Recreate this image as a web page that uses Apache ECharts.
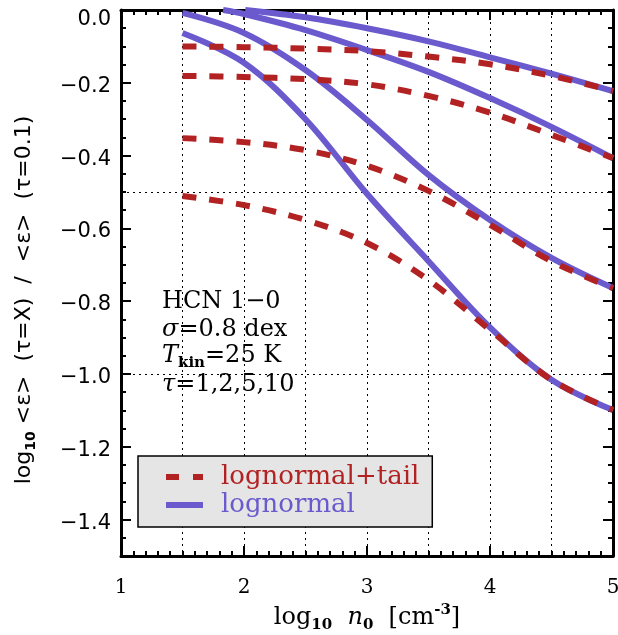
<!DOCTYPE html>
<html>
<head>
<meta charset="utf-8">
<script src="https://cdn.jsdelivr.net/npm/echarts@6/dist/echarts.min.js"></script>
<style>html,body{margin:0;padding:0;background:#fff}#c{width:618px;height:635px}</style>
</head>
<body>
<div id="c"></div>
<script>
// ---- data ----
const xTail = [1.5, 2.0, 2.5, 3.0, 3.5, 4.0, 4.5, 5.0];
const tailTau1  = [-0.100, -0.102, -0.106, -0.113, -0.128, -0.149, -0.181, -0.222];
const tailTau2  = [-0.181, -0.184, -0.190, -0.204, -0.236, -0.282, -0.343, -0.407];
const tailTau5  = [-0.352, -0.363, -0.385, -0.428, -0.497, -0.590, -0.690, -0.764];
const tailTau10 = [-0.511, -0.536, -0.577, -0.640, -0.742, -0.879, -1.016, -1.099];

const xLn1 = [2.01, 2.5, 3.0, 3.5, 4.0, 4.5, 5.0];
const lnTau1 = [0.0, -0.020, -0.050, -0.086, -0.130, -0.175, -0.223];
const xLn2 = [1.83, 2.0, 2.5, 3.0, 3.5, 4.0, 4.5, 5.0];
const lnTau2 = [0.0, -0.011, -0.055, -0.110, -0.170, -0.242, -0.321, -0.407];
const xLn = [1.5, 2.0, 2.5, 3.0, 3.5, 4.0, 4.5, 5.0];
const lnTau5  = [-0.008, -0.063, -0.165, -0.302, -0.453, -0.577, -0.681, -0.764];
const lnTau10 = [-0.063, -0.145, -0.300, -0.505, -0.690, -0.872, -1.016, -1.099];

const xTicks = [1, 2, 3, 4, 5];
const yTicks = [0.0, -0.2, -0.4, -0.6, -0.8, -1.0, -1.2, -1.4];
const legendNames = ['lognormal+tail', 'lognormal'];

const RED = '#b22222', BLUE = '#6a5acd';
const SERIF = 'DejaVu Serif', SANS = 'DejaVu Sans';

function pairs(xs, ys) { return xs.map((x, i) => [x, ys[i]]); }
// minor tick positions on y (every 0.05 between -1.5 and 0)
const yMinor = [];
for (let k = 0; k <= 30; k++) yMinor.push(+(-1.5 + k * 0.05).toFixed(2));

const chart = echarts.init(document.getElementById('c'), null, {renderer: 'canvas'});

const xFrame = (pos) => ({
  type: 'value', position: pos, min: 1, max: 5, interval: 1,
  axisLine: {show: true, onZero: false, lineStyle: {color: '#000', width: 3}},
  axisTick: {show: true, inside: true, length: 10, lineStyle: {color: '#000', width: 2}},
  minorTick: {show: true, splitNumber: 10, length: 5, lineStyle: {color: '#000', width: 2}},
  splitLine: {show: false}, minorSplitLine: {show: false},
  axisLabel: {show: false}
});
const yFrame = (pos) => ({
  type: 'value', position: pos, min: -1.5, max: 0,
  axisLine: {show: true, onZero: false, lineStyle: {color: '#000', width: 3}},
  axisTick: {show: true, inside: true, length: 10, customValues: yTicks, lineStyle: {color: '#000', width: 2}},
  minorTick: {show: false},
  splitLine: {show: false},
  axisLabel: {show: false}
});
const yMinorAxis = (pos) => ({
  type: 'value', position: pos, min: -1.5, max: 0,
  axisLine: {show: false},
  axisTick: {show: true, inside: true, length: 5, customValues: yMinor, lineStyle: {color: '#000', width: 2}},
  axisLabel: {show: false}, splitLine: {show: false}
});

const lnSeries = (data) => ({
  name: 'lognormal', type: 'line', data, symbol: 'none', smooth: 0.35,
  lineStyle: {color: BLUE, width: 6}, itemStyle: {color: BLUE}, z: 3, clip: true
});
const tailSeries = (data) => ({
  name: 'lognormal+tail', type: 'line', data, symbol: 'none', smooth: 0.35,
  lineStyle: {color: RED, width: 6, type: [14, 13]}, itemStyle: {color: RED}, z: 4, clip: true
});

const xBottom = xFrame('bottom');
xBottom.axisLabel = {show: true, margin: 22, color: '#000', fontFamily: SERIF, fontSize: 20,
  formatter: v => xTicks.includes(v) ? String(v) : ''};
xBottom.name = '{t|log}{s|10}{t|  }{i|n}{s|0}{t|  [cm}{p|-3}{t|]}';
xBottom.nameLocation = 'middle';
xBottom.nameGap = 23;
xBottom.nameTextStyle = {
  rich: {
    t: {fontFamily: SERIF, fontSize: 24, color: '#000', lineHeight: 30, verticalAlign: 'middle'},
    i: {fontFamily: SERIF, fontSize: 24, fontStyle: 'italic', color: '#000', lineHeight: 30, verticalAlign: 'middle'},
    s: {fontFamily: SERIF, fontSize: 15, fontWeight: 'bold', color: '#000', lineHeight: 30, verticalAlign: 'bottom'},
    p: {fontFamily: SERIF, fontSize: 15, fontWeight: 'bold', color: '#000', lineHeight: 30, verticalAlign: 'top'}
  }
};

const yLeft = yFrame('left');
yLeft.axisLabel = {show: true, margin: 10, color: '#000', customValues: yTicks,
  formatter: v => {
    const isZero = Math.abs(v) < 1e-9;
    const s = (isZero ? '0.0' : v.toFixed(1)).replace('-', '\u2212');
    return isZero ? '{z|' + s + '}' : '{n|' + s + '}';
  },
  rich: {
    z: {fontFamily: SANS, fontSize: 21, color: '#000', padding: [20, 0, 0, 0]},
    n: {fontFamily: SANS, fontSize: 21, color: '#000', padding: [7, 0, 0, 0]}
  }
};
yLeft.name = '{t|log}{s|10}{t| <\u03b5>  (\u03c4=X)  /  <\u03b5>  (\u03c4=0.1)}{e| }';
yLeft.nameLocation = 'middle';
yLeft.nameRotate = 90;
yLeft.nameGap = 83;
yLeft.nameTextStyle = {
  rich: {
    t: {fontFamily: SANS, fontSize: 22, color: '#000', lineHeight: 28, verticalAlign: 'middle'},
    s: {fontFamily: SANS, fontSize: 14, fontWeight: 'bold', color: '#000', lineHeight: 28, verticalAlign: 'bottom'},
    e: {fontSize: 10, width: 34, lineHeight: 28}
  }
};

const txt = (extra) => Object.assign({fontFamily: SERIF, fontSize: 24, fill: '#000', lineHeight: 30, verticalAlign: 'middle'}, extra || {});

const option = {
  animation: false,
  backgroundColor: '#fff',
  grid: {left: 121, top: 10, width: 492, height: 546, containLabel: false, outerBoundsMode: 'none'},
  xAxis: [
    xBottom,
    xFrame('top'),
    {
      type: 'value', position: 'bottom', min: 1, max: 5, interval: 0.5,
      axisLine: {show: false}, axisTick: {show: false}, axisLabel: {show: false},
      splitLine: {show: true, lineStyle: {color: '#000', width: 1, type: [2, 4]}}
    }
  ],
  yAxis: [
    yLeft,
    yFrame('right'),
    yMinorAxis('left'),
    yMinorAxis('right'),
    {
      type: 'value', position: 'left', min: -1.5, max: 0,
      axisLine: {show: false}, axisTick: {show: false}, axisLabel: {show: false},
      splitLine: {show: true, lineStyle: {color: '#000', width: 1, type: [2, 4]}},
      interval: 0.5
    }
  ],
  legend: {
    orient: 'vertical', left: 138, top: 456,
    backgroundColor: '#e5e5e5', borderColor: '#000', borderWidth: 1.5, borderRadius: 0,
    padding: [7, 13, 8, 28], itemGap: 0, itemWidth: 37, itemHeight: 6,
    symbolKeepAspect: false,
    data: [
      {name: legendNames[0], icon: 'path://M0,0h13v6h-13z M27,0h10v6h-10z', itemStyle: {color: RED}, textStyle: {color: RED}},
      {name: legendNames[1], icon: 'path://M0,0h37v6h-37z', itemStyle: {color: BLUE}, textStyle: {color: BLUE}}
    ],
    textStyle: {fontFamily: SERIF, fontSize: 26, lineHeight: 28, padding: [0, 0, 0, 13]}
  },
  graphic: [
    {type: 'text', left: 162, top: 290, style: {text: '{n|HCN 1\u22120}', rich: {n: txt()}}},
    {type: 'text', left: 162, top: 318, style: {
      text: '{i|\u03c3}{n|=0.8 dex}',
      rich: {i: txt({fontStyle: 'italic'}), n: txt()}}},
    {type: 'text', left: 162, top: 344, style: {
      text: '{i|T}{b|kin}{n|=25 K}',
      rich: {i: txt({fontStyle: 'italic'}), b: txt({fontSize: 15, fontWeight: 'bold', verticalAlign: 'bottom'}), n: txt()}}},
    {type: 'text', left: 162, top: 373, style: {
      text: '{i|\u03c4}{n|=1,2,5,10}',
      rich: {i: txt({fontStyle: 'italic'}), n: txt()}}}
  ],
  series: [
    lnSeries(pairs(xLn1, lnTau1)),
    lnSeries(pairs(xLn2, lnTau2)),
    lnSeries(pairs(xLn, lnTau5)),
    lnSeries(pairs(xLn, lnTau10)),
    tailSeries(pairs(xTail, tailTau1)),
    tailSeries(pairs(xTail, tailTau2)),
    tailSeries(pairs(xTail, tailTau5)),
    tailSeries(pairs(xTail, tailTau10))
  ]
};
chart.setOption(option);
</script>
</body>
</html>
